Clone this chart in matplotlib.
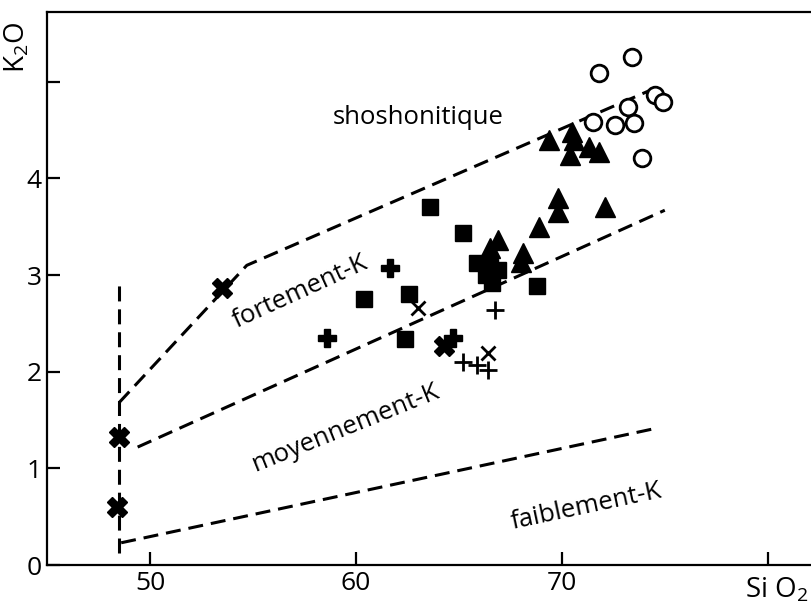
import matplotlib
matplotlib.use("Agg")
import matplotlib.pyplot as plt
import matplotlib.transforms as mtrans

#Font setup
plt.rcParams['font.family'] = ['Open Sans', 'DejaVu Sans']
plt.rcParams['mathtext.fontset'] = 'custom'
plt.rcParams['mathtext.rm'] = 'Open Sans'

#Boundary lines (SiO2, K2O)
vertX = [48.5, 48.5]
vertY = [0.12, 2.97]
shoX = [48.5, 54.7, 74.5]
shoY = [1.68, 3.10, 4.93]
highX = [49.4, 75.0]
highY = [1.22, 3.67]
lowX = [48.6, 74.7]
lowY = [0.23, 1.42]

#Samples
boldXx = [48.5, 48.4, 53.5, 64.3]
boldXy = [1.32, 0.60, 2.87, 2.27]
boldPx = [58.6, 61.65, 64.7]
boldPy = [2.35, 3.07, 2.35]
squareX = [63.6, 65.2, 60.4, 62.6, 62.4, 65.9, 66.3, 66.6, 66.9, 66.5, 68.8]
squareY = [3.70, 3.43, 2.75, 2.80, 2.34, 3.12, 3.00, 2.92, 3.05, 3.08, 2.89]
triX = [69.8, 69.8, 68.9, 66.9, 66.5, 68.1, 68.0, 66.4, 69.4, 70.5, 70.6, 70.4, 71.3, 71.8, 72.1]
triY = [3.80, 3.65, 3.50, 3.36, 3.28, 3.23, 3.13, 3.19, 4.40, 4.48, 4.40, 4.24, 4.32, 4.27, 3.70]
circX = [73.4, 71.8, 74.5, 74.9, 73.2, 71.5, 72.6, 73.5, 73.9]
circY = [5.25, 5.09, 4.86, 4.79, 4.74, 4.58, 4.55, 4.57, 4.21]
thinXx = [63.0, 66.4]
thinXy = [2.66, 2.19]
thinPx = [66.75, 65.2, 65.9, 66.4]
thinPy = [2.64, 2.10, 2.07, 2.02]

fig = plt.figure(figsize=(8.11, 6.03), dpi=100)
ax = fig.add_axes([0.058, 0.063, 0.942, 0.917])

#Dashed boundaries
dash = dict(color='black', lw=2.2, dashes=(4.9, 2.6))
ax.plot(vertX, vertY, **dash)
ax.plot(shoX, shoY, **dash)
ax.plot(highX, highY, **dash)
ax.plot(lowX, lowY, **dash)

#Points
ax.plot(squareX, squareY, 's', color='black', ms=12, ls='none')
ax.plot(triX, triY, '^', color='black', ms=14, ls='none')
ax.plot(circX, circY, 'o', mfc='white', mec='black', mew=2, ms=12, ls='none')
ax.plot(boldXx, boldXy, 'X', color='black', ms=14, ls='none')
ax.plot(boldPx, boldPy, 'P', color='black', ms=13, ls='none')
ax.plot(thinXx, thinXy, 'x', color='black', ms=10, mew=2, ls='none')
ax.plot(thinPx, thinPy, '+', color='black', ms=13, mew=2, ls='none')

#Field names
ax.text(63.0, 4.63, "shoshonitique", fontsize=18.5, ha='center', va='center')
ax.text(57.3, 2.83, "fortement-K", fontsize=18.5, ha='center', va='center', rotation=24.5)
ax.text(59.5, 1.42, "moyennement-K", fontsize=18.5, ha='center', va='center', rotation=22)
ax.text(71.2, 0.60, "faiblement-K", fontsize=18.5, ha='center', va='center', rotation=12)

#Axes
ax.set_xlim(45, 82.1)
ax.set_ylim(0, 5.72)
ax.set_xticks([50, 60, 70, 80])
ax.set_xticklabels(["50", "60", "70", ""])
ax.set_yticks([0, 1, 2, 3, 4, 5])
ax.set_yticklabels(["0", "1", "2", "3", "4", ""])
ax.tick_params(direction='in', length=9.5, width=1.6, labelsize=19, pad=4)
for side in ['left', 'bottom', 'top']:
    ax.spines[side].set_linewidth(1.6)
ax.spines['right'].set_visible(False)

#Axis names placed at the ends of the axes
siTrans = mtrans.blended_transform_factory(ax.transAxes, ax.transData)
ax.text(0.997, -0.26, r"Si O$_\mathregular{2}$", fontsize=20, ha='right', va='center',
        transform=siTrans, clip_on=False)
ax.text(-0.04, 5.35, r"K$_\mathregular{2}$O", fontsize=20, ha='center', va='center', rotation=90,
        transform=ax.get_yaxis_transform(), clip_on=False)

plt.savefig("out.png", dpi=100)
